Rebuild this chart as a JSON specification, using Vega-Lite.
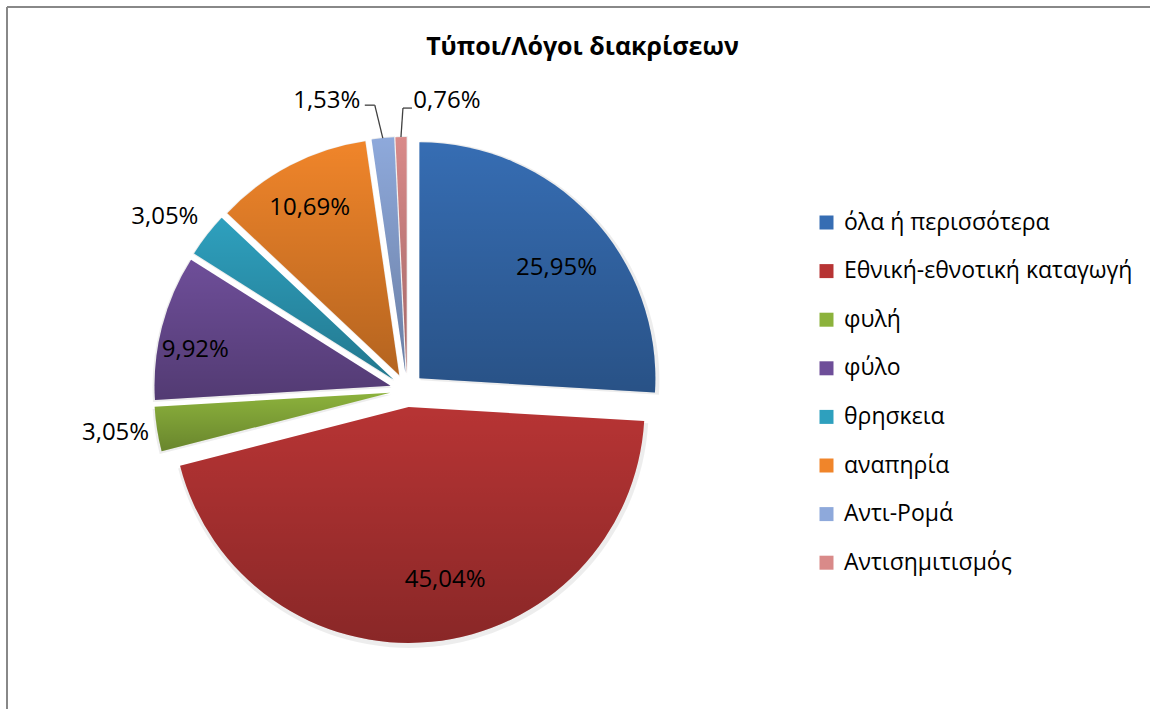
{
  "$schema": "https://vega.github.io/schema/vega-lite/v6.json",
  "width": 1143,
  "height": 702,
  "autosize": "none",
  "padding": {"left": 7, "top": 7, "right": 0, "bottom": 0},
  "background": "white",
  "config": {"view": {"stroke": null}, "font": "Open Sans"},
  "title": {
    "text": "Τύποι/Λόγοι διακρίσεων",
    "font": "Open Sans",
    "fontSize": 25,
    "fontWeight": "bold",
    "color": "#000000",
    "anchor": "middle",
    "offset": -54,
    "dx": 4
  },
  "data": {
    "values": [
      {"cat": "όλα ή περισσότερα", "pct": 25.95, "label": "25,95%", "o": 1},
      {"cat": "Εθνική-εθνοτική καταγωγή", "pct": 45.04, "label": "45,04%", "o": 2},
      {"cat": "φυλή", "pct": 3.05, "label": "3,05%", "o": 3},
      {"cat": "φύλο", "pct": 9.92, "label": "9,92%", "o": 4},
      {"cat": "θρησκεια", "pct": 3.05, "label": "3,05%", "o": 5},
      {"cat": "αναπηρία", "pct": 10.69, "label": "10,69%", "o": 6},
      {"cat": "Αντι-Ρομά", "pct": 1.53, "label": "1,53%", "o": 7},
      {"cat": "Αντισημιτισμός", "pct": 0.76, "label": "0,76%", "o": 8}
    ]
  },
  "layer": [
    {
      "data": {"values": [{}]},
      "mark": {"type": "rule", "color": "#888888", "strokeWidth": 2},
      "encoding": {"x": {"value": 0}}
    },
    {
      "data": {"values": [{}]},
      "mark": {"type": "rule", "color": "#888888", "strokeWidth": 2},
      "encoding": {"y": {"value": 0}}
    },
    {
      "mark": {
        "type": "arc",
        "outerRadius": 239,
        "fill": "#000000",
        "fillOpacity": 0.07,
        "xOffset": {"expr": "1 + 17*sin((datum.pct_start+datum.pct_end)/99.99*PI)"},
        "yOffset": {"expr": "2 - 17*cos((datum.pct_start+datum.pct_end)/99.99*PI)"}
      },
      "encoding": {
        "x": {"value": 400},
        "y": {"value": 383},
        "theta": {"field": "pct", "type": "quantitative", "stack": true},
        "order": {"field": "o", "type": "quantitative"}
      }
    },
    {
      "mark": {
        "type": "arc",
        "outerRadius": 236,
        "xOffset": {"expr": "17*sin((datum.pct_start+datum.pct_end)/99.99*PI)"},
        "yOffset": {"expr": "-17*cos((datum.pct_start+datum.pct_end)/99.99*PI)"}
      },
      "encoding": {
        "x": {"value": 400},
        "y": {"value": 383},
        "theta": {"field": "pct", "type": "quantitative", "stack": true},
        "order": {"field": "o", "type": "quantitative"},
        "color": {
          "field": "cat",
          "type": "nominal",
          "scale": {
            "domain": ["όλα ή περισσότερα", "Εθνική-εθνοτική καταγωγή", "φυλή", "φύλο", "θρησκεια", "αναπηρία", "Αντι-Ρομά", "Αντισημιτισμός"],
            "range": ["#366DB3", "#B73434", "#8CB23C", "#6E4E99", "#2EA0BE", "#F0852A", "#8EA9DB", "#D98A89"]
          },
          "legend": {
            "title": null,
            "orient": "none",
            "legendX": 808,
            "legendY": 204,
            "padding": 0,
            "symbolType": "square",
            "symbolSize": 196,
            "symbolStrokeWidth": 0,
            "labelFont": "Open Sans",
            "labelFontSize": 23,
            "labelColor": "#000000",
            "labelOffset": 6,
            "rowPadding": 24.6,
            "labelLimit": 400
          }
        }
      }
    },
    {
      "mark": {
        "type": "arc",
        "outerRadius": 236,
        "fill": {
          "gradient": "linear",
          "x1": 0, "y1": 0, "x2": 0, "y2": 1,
          "stops": [
            {"offset": 0, "color": "rgba(0,0,0,0)"},
            {"offset": 1, "color": "rgba(0,0,0,0.25)"}
          ]
        },
        "xOffset": {"expr": "17*sin((datum.pct_start+datum.pct_end)/99.99*PI)"},
        "yOffset": {"expr": "-17*cos((datum.pct_start+datum.pct_end)/99.99*PI)"}
      },
      "encoding": {
        "x": {"value": 400},
        "y": {"value": 383},
        "theta": {"field": "pct", "type": "quantitative", "stack": true},
        "order": {"field": "o", "type": "quantitative"}
      }
    },
    {
      "mark": {
        "type": "text",
        "radius": 200,
        "fontSize": 24,
        "font": "Open Sans",
        "color": "#000000",
        "dx": {"expr": "datum.o == 1 ? 4 : datum.o == 2 ? 19 : datum.o == 4 ? -18 : datum.o == 6 ? -5 : 0"},
        "dy": {"expr": "datum.o == 1 ? 15 : datum.o == 2 ? -9 : datum.o == 4 ? 10 : datum.o == 6 ? -5 : 0"}
      },
      "encoding": {
        "x": {"value": 400},
        "y": {"value": 383},
        "theta": {"field": "pct", "type": "quantitative", "stack": true},
        "order": {"field": "o", "type": "quantitative"},
        "text": {
          "condition": {"test": "datum.o == 1 || datum.o == 2 || datum.o == 4 || datum.o == 6", "field": "label"},
          "value": ""
        }
      }
    },
    {
      "mark": {
        "type": "text",
        "radius": 295,
        "fontSize": 24,
        "font": "Open Sans",
        "color": "#000000",
        "dx": {"expr": "datum.o == 5 ? -9 : datum.o == 7 ? -52 : datum.o == 8 ? 47 : 0"},
        "dy": {"expr": "datum.o == 5 ? 8 : datum.o == 7 ? 5 : datum.o == 8 ? 6 : -3"}
      },
      "encoding": {
        "x": {"value": 400},
        "y": {"value": 383},
        "theta": {"field": "pct", "type": "quantitative", "stack": true},
        "order": {"field": "o", "type": "quantitative"},
        "text": {
          "condition": {"test": "datum.o == 3 || datum.o == 5 || datum.o == 7 || datum.o == 8", "field": "label"},
          "value": ""
        }
      }
    },
    {
      "transform": [
        {"stack": "pct", "groupby": [], "sort": [{"field": "o", "order": "ascending"}], "as": ["s", "e"]},
        {"filter": "datum.o >= 7"}
      ],
      "mark": {"type": "rule", "color": "#404040", "strokeWidth": 1.3},
      "encoding": {
        "x": {"value": {"expr": "400 + 253*sin((datum.s+datum.e)/99.99*PI)"}},
        "y": {"value": {"expr": "383 - 253*cos((datum.s+datum.e)/99.99*PI)"}},
        "x2": {"value": {"expr": "400 + 253*sin((datum.s+datum.e)/99.99*PI) + (datum.o == 7 ? -8 : 2)"}},
        "y2": {"value": {"expr": "383 - 253*cos((datum.s+datum.e)/99.99*PI) + (datum.o == 7 ? -33 : -29)"}}
      }
    },
    {
      "transform": [
        {"stack": "pct", "groupby": [], "sort": [{"field": "o", "order": "ascending"}], "as": ["s", "e"]},
        {"filter": "datum.o >= 7"}
      ],
      "mark": {"type": "rule", "color": "#404040", "strokeWidth": 1.3},
      "encoding": {
        "x": {"value": {"expr": "400 + 253*sin((datum.s+datum.e)/99.99*PI) + (datum.o == 7 ? -8 : 2)"}},
        "y": {"value": {"expr": "383 - 253*cos((datum.s+datum.e)/99.99*PI) + (datum.o == 7 ? -33 : -29)"}},
        "x2": {"value": {"expr": "400 + 253*sin((datum.s+datum.e)/99.99*PI) + (datum.o == 7 ? -18 : 11)"}},
        "y2": {"value": {"expr": "383 - 253*cos((datum.s+datum.e)/99.99*PI) + (datum.o == 7 ? -33 : -29)"}}
      }
    }
  ]
}
